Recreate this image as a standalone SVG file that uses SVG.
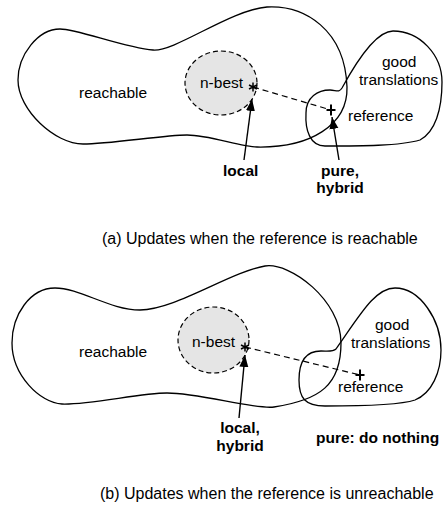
<svg xmlns="http://www.w3.org/2000/svg" width="448" height="508" viewBox="0 0 448 508">
<style>
.blob{fill:none;stroke:#000;stroke-width:1.3}
.nbest{fill:#e5e5e5;stroke:#000;stroke-width:1.2;stroke-dasharray:5 3}
.dash{fill:none;stroke:#000;stroke-width:1.2;stroke-dasharray:6 4}
.arrow{fill:none;stroke:#000;stroke-width:1.4;marker-end:url(#ah)}
.sym{fill:none;stroke:#000}
text{font-family:"Liberation Sans",Arial,sans-serif;font-size:15.5px;fill:#000}
.b{font-weight:bold}
.cap{font-size:16px}
</style>
<defs>
<marker id="ah" markerUnits="userSpaceOnUse" markerWidth="13" markerHeight="10" refX="12" refY="4.5" orient="auto">
<path d="M0,0 L12,4.5 L0,9 z" fill="#000"/>
</marker>
</defs>

<!-- Panel (a) -->
<g id="reachable-a">
<path class="blob" d="M18,80 C18,55 38,29 60,29 C78,29 125,48 153,50 C175,52 230,10 267,7 C305,5 345,30 347,87 C348,125 310,148 257,147 C240,147 210,135 187,135 C164,135 110,144 83,144 C55,144 18,110 18,80 Z"/>
<text x="79" y="98">reachable</text>
</g>
<g id="good-a">
<path class="blob" d="M342,88 C339,93 336,90 330,90 C318,90 306,97 306,113 C305,130 310,146 325,146 C360,146 400,146 420,140 C435,132 442,110 442,82 C442,55 420,31 393,31 C378,31 360,55 342,88 Z"/>
<text x="382" y="67">good</text>
<text x="359" y="85">translations</text>
</g>
<g id="nbest-a">
<ellipse class="nbest" cx="221" cy="83" rx="36" ry="32"/>
<text x="200" y="88">n-best</text>
</g>
<g id="ref-a">
<path class="sym" stroke-width="2" d="M326.5,110 H335.5 M331,104.5 V115.5"/>
<text x="348" y="121">reference</text>
</g>
<g id="star-a">
<path class="sym" stroke-width="1.5" d="M253,82.5 V91.5 M249,85 L257,89 M249,89 L257,85"/>
</g>
<g id="label-local-a">
<text class="b" x="223" y="176">local</text>
</g>
<g id="label-pure-a">
<text class="b" x="340" y="176" text-anchor="middle">pure,</text>
<text class="b" x="340" y="193" text-anchor="middle">hybrid</text>
</g>
<text class="cap" x="102" y="244">(a) Updates when the reference is reachable</text>

<!-- Panel (b) -->
<g id="reachable-b">
<path class="blob" d="M12,343 C12,315 30,288 55,288 C80,288 110,310 140,310 C175,310 230,272 265,266 C290,262 341,300 341,343 C341,385 320,400 274,407 C255,410 200,393 167,393 C140,393 90,405 62,404 C40,403 12,375 12,343 Z"/>
<text x="79" y="357">reachable</text>
</g>
<g id="good-b">
<path class="blob" d="M336,349 C333,352 328,351 321,351 C306,351 299,362 299,380 C299,398 305,406 325,406 C360,406 400,405 415,400 C432,393 441,372 441,350 C441,320 420,288 395,288 C375,288 360,315 336,349 Z"/>
<text x="375" y="330">good</text>
<text x="351" y="348">translations</text>
</g>
<g id="nbest-b">
<ellipse class="nbest" cx="213.5" cy="340" rx="35.5" ry="33"/>
<text x="192" y="347">n-best</text>
</g>
<g id="ref-b">
<path class="sym" stroke-width="2" d="M355.5,375 H364.5 M360,369.5 V380.5"/>
<text x="338" y="392">reference</text>
</g>
<g id="star-b">
<path class="sym" stroke-width="1.5" d="M245,342.5 V351.5 M241,345 L249,349 M241,349 L249,345"/>
</g>
<g id="label-local-b">
<text class="b" x="240" y="433" text-anchor="middle">local,</text>
<text class="b" x="240" y="451" text-anchor="middle">hybrid</text>
</g>
<g id="label-pure-b">
<text class="b" x="316" y="443">pure: do nothing</text>
</g>
<text class="cap" x="100" y="499">(b) Updates when the reference is unreachable</text>

<g id="connectors">
<line class="dash" x1="253" y1="87" x2="331" y2="110"/>
<line class="arrow" x1="244" y1="160" x2="252" y2="99"/>
<line class="arrow" x1="339" y1="160" x2="332" y2="117"/>
<line class="dash" x1="245" y1="347" x2="360" y2="375"/>
<line class="arrow" x1="239" y1="418" x2="245" y2="355"/>
</g>
</svg>
